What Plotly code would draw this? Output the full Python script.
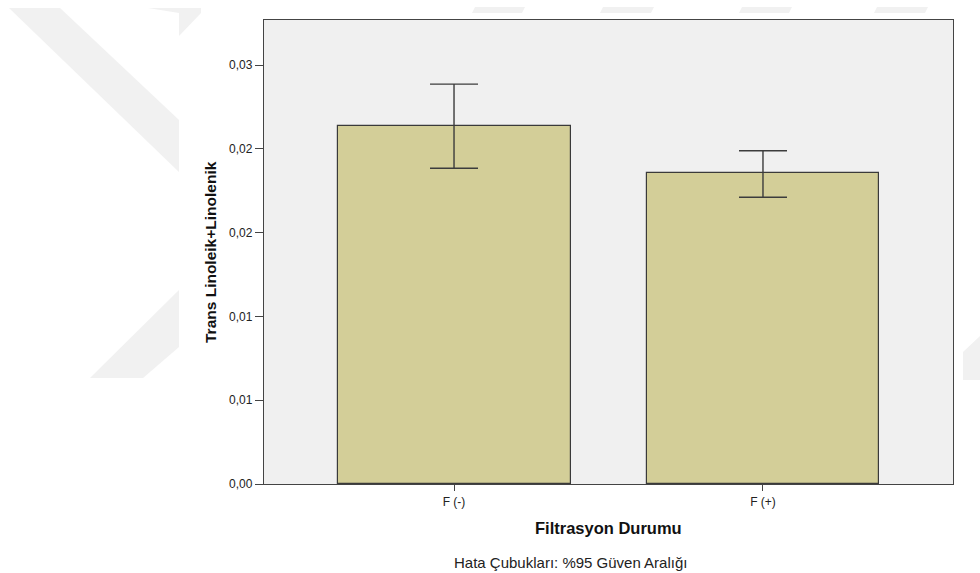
import plotly.graph_objects as go

# ---- data ----
categories = ["F (-)", "F (+)"]
means = [0.02136, 0.01854]
ci_upper = [0.02387, 0.01989]
ci_lower = [0.01885, 0.01712]
y_tickvals = [0.0, 0.005, 0.010, 0.015, 0.020, 0.025]
y_ticktext = ["0,00", "0,01", "0,01", "0,02", "0,02", "0,03"]

err_plus = [u - m for u, m in zip(ci_upper, means)]
err_minus = [m - l for m, l in zip(means, ci_lower)]

W, H = 980, 573
L, R, T, B = 264, 27, 20, 89
PW, PH = W - L - R, H - T - B


def px(x):
    return (x - L) / PW


def py(y):
    return (H - B - y) / PH


def path(points):
    return "M " + " L ".join(f"{px(a):.5f},{py(b):.5f}" for a, b in points) + " Z"


wm = "#F1F1F1"
shapes = []
# faint watermark outside the chart image
for pts in [
    [(9, 8), (60, 8), (179, 120), (179, 172)],
    [(148, 8), (201, 8), (201, 13), (179, 36), (179, 13)],
    [(179, 290), (90, 378), (143, 378), (179, 347)],
    [(963, 352), (980, 336), (980, 380), (963, 380)],
    [(475, 7), (525, 7), (522, 13), (472, 13)],
    [(603, 7), (654, 7), (651, 13), (600, 13)],
    [(742, 7), (792, 7), (789, 13), (739, 13)],
    [(877, 7), (928, 7), (925, 13), (874, 13)],
]:
    shapes.append(dict(type="path", xref="paper", yref="paper", path=path(pts),
                       fillcolor=wm, line=dict(width=0), layer="below"))

fig = go.Figure()
fig.add_trace(go.Bar(
    x=categories, y=means, width=0.754,
    marker=dict(color="#D3CE98", line=dict(color="#3a3a3a", width=1.2)),
    error_y=dict(type="data", symmetric=False, array=err_plus, arrayminus=err_minus,
                 color="#3c3c3c", thickness=1.4, width=24),
    hoverinfo="skip",
))

fig.update_layout(
    width=W, height=H,
    margin=dict(l=L, r=R, t=T, b=B),
    paper_bgcolor="rgba(0,0,0,0)",
    plot_bgcolor="#F0F0F0",
    showlegend=False,
    bargap=0,
    font=dict(family="Liberation Sans, Arial, sans-serif", color="#222222"),
    shapes=shapes,
    xaxis=dict(range=[-0.615, 1.615], showgrid=False, zeroline=False,
               showline=True, linecolor="#444444", linewidth=1.3, mirror=True,
               ticks="outside", ticklen=6, tickcolor="#444444", tickwidth=1.3,
               tickfont=dict(size=12, color="#222222")),
    yaxis=dict(range=[0, 0.02770], showgrid=False, zeroline=False,
               showline=True, linecolor="#444444", linewidth=1.3, mirror=True,
               tickvals=y_tickvals, ticktext=y_ticktext,
               ticks="outside", ticklen=8, tickcolor="#444444", tickwidth=1.3,
               tickfont=dict(size=12, color="#222222")),
    annotations=[
        dict(text="<b>Filtrasyon Durumu</b>", xref="paper", yref="paper",
             x=px(608.5), y=py(528), showarrow=False, xanchor="center", yanchor="middle",
             font=dict(size=16.5, color="#111111")),
        dict(text="Hata Çubukları: %95 Güven Aralığı", xref="paper", yref="paper",
             x=px(570), y=py(562), showarrow=False, xanchor="center", yanchor="middle",
             font=dict(size=15, color="#222222")),
        dict(text="<b>Trans Linoleik+Linolenik</b>", xref="paper", yref="paper",
             x=px(210), y=py(252), showarrow=False, xanchor="center", yanchor="middle",
             textangle=-90, font=dict(size=15.5, color="#111111")),
    ],
)

fig.write_html("out.html")
